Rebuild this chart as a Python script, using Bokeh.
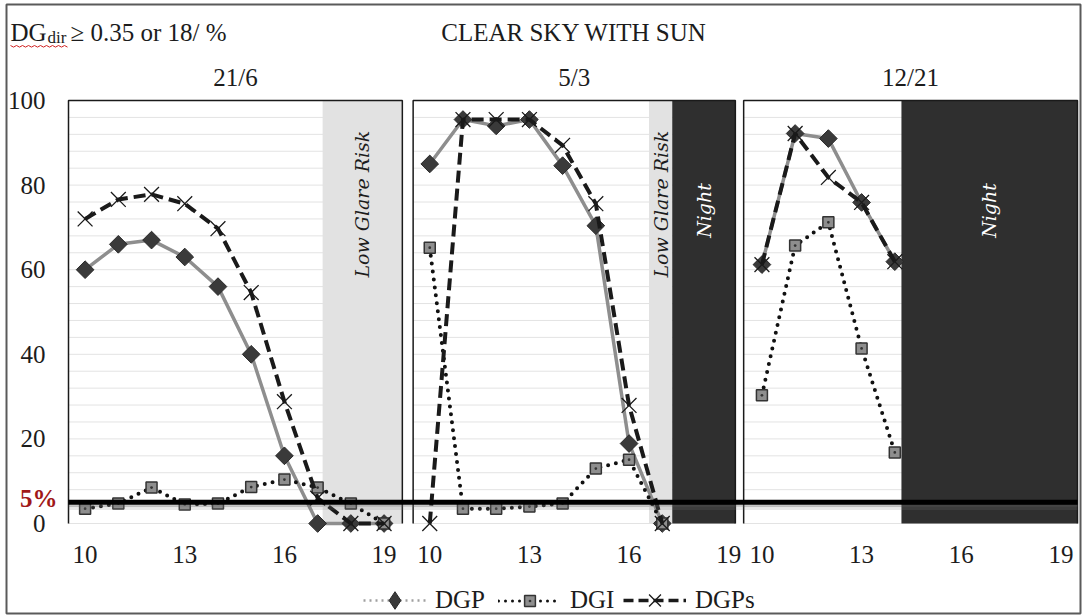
import numpy as np
from bokeh.plotting import figure
from bokeh.models import Range1d, Legend, LegendItem, ColumnDataSource
from bokeh.core.properties import value
from bokeh.embed import file_html
from bokeh.resources import INLINE

# ---- data -----------------------------------------------------------------
dates = ["21/6", "5/3", "12/21"]

hours_jun = [10, 11, 12, 13, 14, 15, 16, 17, 18, 19]
dgp_jun = [60, 66, 67, 63, 56, 40, 16, 0, 0, 0]
dgi_jun = [3.5, 4.7, 8.5, 4.5, 4.7, 8.6, 10.4, 8.5, 4.7, 0]
dgps_jun = [72, 76.6, 77.8, 75.6, 69.7, 54.6, 28.8, 6, 0, 0]

hours_mar = [10, 11, 12, 13, 14, 15, 16, 17]
dgp_mar = [85, 95.5, 94, 95.5, 84.6, 70.4, 18.9, 0]
dgi_mar = [65.2, 3.5, 3.5, 4, 4.7, 13, 15.1, 0]
dgps_mar = [0, 95.5, 95.5, 95.5, 89.4, 75.6, 27.9, 0]

hours_dec = [10, 11, 12, 13, 14]
dgp_dec = [61.2, 92.2, 91, 75.9, 61.9]
dgi_dec = [30.3, 65.7, 71.2, 41.4, 16.8]
dgps_dec = [61.2, 92.2, 81.8, 75.9, 61.9]

tick_hours = [10, 13, 16, 19]
y_ticks = [0, 20, 40, 60, 80, 100]
grid_values = list(range(0, 101, 4))
threshold = 5  # %

# low glare risk / night periods (hours) per day
low_glare = [(17.15, 19.55), (16.6, 17.3), None]
night = [None, (17.3, 19.2), (14.2, 19.5)]

# ---- panel layout on a shared hour axis ------------------------------------
offsets = [0.0, 10.375, 20.375]
x_limits = [(9.5, 19.55), (9.5, 19.2), (9.45, 19.5)]
Y_TOP = 100

series = [
    (hours_jun, dgp_jun, dgi_jun, dgps_jun),
    (hours_mar, dgp_mar, dgi_mar, dgps_mar),
    (hours_dec, dgp_dec, dgi_dec, dgps_dec),
]

W, H = 1082, 616
# page geometry of the plotting area (first panel's left edge .. last panel's right edge)
LEFT_PX, RIGHT_PX, TOP_PX, BASE_PX = 68, 1077, 100, 523
X_LO, X_HI = x_limits[0][0], x_limits[2][1] + offsets[2]
KX = (RIGHT_PX - LEFT_PX) / (X_HI - X_LO)
KY = (BASE_PX - TOP_PX) / Y_TOP


def sx(px):
    """page pixel column -> shared x value"""
    return X_LO + (px - LEFT_PX) / KX


def sy(py):
    """page pixel row -> percent value"""
    return (BASE_PX - py) / KY


SERIF = "Liberation Serif"
TXT = "#1c1c1c"

p = figure(width=W, height=H,
           x_range=Range1d(sx(0), sx(W)), y_range=Range1d(sy(H), sy(0)),
           output_backend="svg", toolbar_location=None,
           x_axis_location=None, y_axis_location=None, min_border=0)
p.outline_line_color = None
p.background_fill_color = "white"
p.border_fill_color = "white"
p.grid.visible = False


def txt(x, y, s, size="25px", align="left", baseline="middle", color=TXT,
        style="normal", font=SERIF, angle=0.0):
    p.text(x=x, y=y, text=s, text_font=value(font), text_font_size=size,
           text_align=align, text_baseline=baseline, text_color=color,
           text_font_style=style, angle=angle)


# panel gridlines
for (lo, hi), off in zip(x_limits, offsets):
    p.segment(x0=lo + off, x1=hi + off, y0=grid_values, y1=grid_values,
              line_color="#e3e3e3", line_width=1)

# shaded periods
for i, off in enumerate(offsets):
    if low_glare[i]:
        a, b = low_glare[i]
        p.quad(left=a + off, right=b + off, bottom=0, top=Y_TOP,
               fill_color="#e2e2e2", line_color=None)
        txt([(a + b) / 2 + off], [75.5], ["Low Glare Risk"], size="19px",
            align="center", style="italic", font="DejaVu Serif", angle=np.pi / 2)
    if night[i]:
        a, b = night[i]
        p.quad(left=a + off, right=b + off, bottom=0, top=Y_TOP,
               fill_color="#2f2f2f", line_color=None)
        txt([(a + b) / 2 + off], [74], ["Night"], size="19px", align="center",
            style="italic", font="DejaVu Serif", color="white", angle=np.pi / 2)

# panel frames (left, top, right sides)
fx, fy = [], []
for (lo, hi), off in zip(x_limits, offsets):
    fx.append([lo + off, lo + off, hi + off, hi + off])
    fy.append([0, Y_TOP, Y_TOP, 0])
p.multi_line(xs=fx, ys=fy, line_color="#1a1a1a", line_width=1.5)

# line / marker styles per series
DGP_LINE = dict(line_color="#8e8e8e", line_width=3.5)
DGP_MARK = dict(marker="square", angle=np.pi / 4, size=12.5,
                fill_color="#3a3a3a", line_color="#2a2a2a", line_width=1)
DGI_LINE = dict(line_color="#111111", line_width=4, line_dash="0 8", line_cap="round")
DGI_MARK = dict(marker="square_dot", size=11, fill_color="#8e8e8e",
                line_color="#333333", line_width=1.5)
DGPS_LINE = dict(line_color="#1a1a1a", line_width=4, line_dash="12 6")
DGPS_MARK = dict(marker="x", size=21, line_color="#1a1a1a", line_width=1.3)

for (hrs, dgp, dgi, dgps), off in zip(series, offsets):
    src = ColumnDataSource(dict(x=[h + off for h in hrs], dgp=dgp, dgi=dgi, dgps=dgps))
    p.line("x", "dgp", source=src, **DGP_LINE)
    p.scatter("x", "dgp", source=src, **DGP_MARK)
    p.line("x", "dgi", source=src, **DGI_LINE)
    p.scatter("x", "dgi", source=src, **DGI_MARK)
    p.line("x", "dgps", source=src, **DGPS_LINE)
    p.scatter("x", "dgps", source=src, **DGPS_MARK)

# threshold line (first panel's left edge to last panel's right edge) with soft shadow
p.segment(x0=[X_LO], x1=[X_HI], y0=[threshold - 1.2], y1=[threshold - 1.2],
          line_color="#808080", line_alpha=0.18, line_width=5)
p.segment(x0=[X_LO], x1=[X_HI], y0=[threshold - 0.7], y1=[threshold - 0.7],
          line_color="#606060", line_alpha=0.25, line_width=3)
p.segment(x0=[X_LO], x1=[X_HI], y0=[threshold], y1=[threshold],
          line_color="black", line_width=5)
txt([sx(57)], [threshold + 0.8], [f"{threshold}%"], align="right", style="bold",
    color="#a01818")

# axis labels
txt([sx(45)] * len(y_ticks), y_ticks, [str(t) for t in y_ticks], align="right")
xt = [h + off for off in offsets for h in tick_hours]
txt(xt, [sy(554)] * len(xt), [str(h) for off in offsets for h in tick_hours],
    align="center")

# headings
txt([sx(10)], [sy(32)], ["DG"])
txt([sx(47)], [sy(37)], ["dir"], size="17px")
p.line(x=[sx(10 + 3 * i) for i in range(20)],
       y=[sy(45 + 1.6 * (i % 2)) for i in range(20)],
       line_color="#d02020", line_width=1)
txt([sx(70)], [sy(32)], ["\u2265 0.35 or 18/ %"])
mid2 = (x_limits[1][0] + x_limits[1][1]) / 2 + offsets[1]
txt([mid2], [sy(32)], ["CLEAR SKY WITH SUN"], align="center")
txt([(lo + hi) / 2 + off for (lo, hi), off in zip(x_limits, offsets)],
    [sy(77)] * 3, dates, align="center")

# outer border
p.quad(left=sx(6), right=sx(1080), top=sy(4), bottom=sy(613),
       fill_alpha=0, line_color="#5a5a5a", line_width=2)

# legend: sample renderers kept outside the visible area, one legend box per
# entry so each sample marker gets its own size
off_x, off_y = [sx(-500)], [sy(-500)]
lg_dgp = [p.line(off_x, off_y, line_color="#a0a0a0", line_width=2.5, line_dash="2 4"),
          p.scatter(off_x, off_y, marker="diamond", fill_color="#3a3a3a",
                    line_color="#2a2a2a")]
lg_dgi = [p.line(off_x, off_y, line_color="#111111", line_width=3, line_dash="0 7",
                 line_cap="round"),
          p.scatter(off_x, off_y, **DGI_MARK)]
lg_dgps = [p.line(off_x, off_y, line_color="#1a1a1a", line_width=3.5, line_dash="10 5"),
           p.scatter(off_x, off_y, **DGPS_MARK)]

LEGEND_MID_PX = 600
for label, rends, left_px, gh in [("DGP", lg_dgp, 363, 44),
                                  ("DGI", lg_dgi, 498, 27),
                                  ("DGPs", lg_dgps, 623, 42)]:
    box_h = max(gh, 30)
    lg = Legend(items=[LegendItem(label=label, renderers=rends)],
                orientation="horizontal",
                location=(left_px, H - LEGEND_MID_PX - box_h / 2),
                glyph_width=63, glyph_height=gh, label_standoff=9, padding=0,
                margin=0, border_line_color=None, background_fill_alpha=0,
                label_text_font=SERIF, label_text_font_size="25px",
                label_text_color=TXT, label_height=30)
    p.add_layout(lg)

open("out.html", "w").write(file_html(p, INLINE))
